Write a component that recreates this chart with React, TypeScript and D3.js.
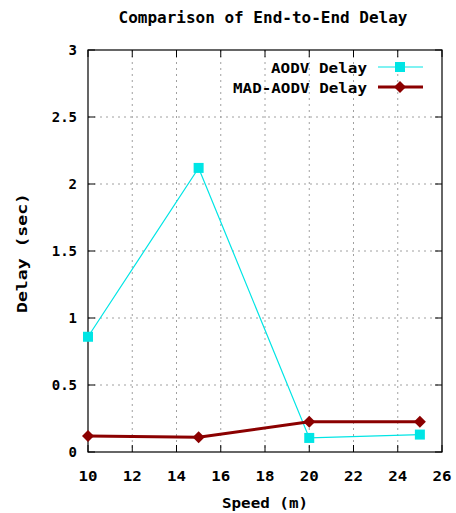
import React from 'react';
import * as d3 from 'd3';

const speeds = [10, 15, 20, 25];
const aodvDelay = [0.86, 2.12, 0.105, 0.13];
const madAodvDelay = [0.12, 0.11, 0.225, 0.225];
const xTicks = [10, 12, 14, 16, 18, 20, 22, 24, 26];
const yTicks = [0, 0.5, 1, 1.5, 2, 2.5, 3];

const W = 456, H = 513;
const left = 88, right = 442, top = 50, bottom = 452;
const FONT = '"DejaVu Sans Mono", monospace';

export default function App() {
  const x = d3.scaleLinear().domain([10, 26]).range([left, right]);
  const y = d3.scaleLinear().domain([0, 3]).range([bottom, top]);

  const line = d3.line<number>()
    .x((d, i) => x(speeds[i]))
    .y(d => y(d));

  const lbl = { fontFamily: FONT, fontWeight: 'bold' as const, fontSize: 14, fill: '#000' };

  return (
    <svg width={W} height={H} style={{ position: 'absolute', left: 0, top: 0, background: '#fff' }}>
      <text x={263} y={23} textAnchor="middle" {...lbl} fontSize={15} textLength={289} lengthAdjust="spacingAndGlyphs">
        Comparison of End-to-End Delay
      </text>

      {/* grid */}
      {xTicks.slice(1, -1).map(t => (
        <line key={'gx' + t} x1={x(t)} x2={x(t)} y1={top} y2={bottom} stroke="#a0a0a0" strokeDasharray="2,4" />
      ))}
      {yTicks.slice(1, -1).map(t => (
        <line key={'gy' + t} x1={left} x2={right} y1={y(t)} y2={y(t)} stroke="#a0a0a0" strokeDasharray="2,4" />
      ))}

      {/* ticks, mirrored on top and right */}
      {xTicks.map(t => (
        <g key={'tx' + t}>
          <line x1={x(t)} x2={x(t)} y1={bottom} y2={bottom - 7} stroke="#000" />
          <line x1={x(t)} x2={x(t)} y1={top} y2={top + 7} stroke="#000" />
          <text x={x(t)} y={481} textAnchor="middle" {...lbl} textLength={19} lengthAdjust="spacingAndGlyphs">{t}</text>
        </g>
      ))}
      {yTicks.map(t => (
        <g key={'ty' + t}>
          <line x1={left} x2={left + 7} y1={y(t)} y2={y(t)} stroke="#000" />
          <line x1={right} x2={right - 7} y1={y(t)} y2={y(t)} stroke="#000" />
          <text x={77} y={y(t) + 5} textAnchor="end" {...lbl}>{String(t)}</text>
        </g>
      ))}

      <rect x={left} y={top} width={right - left} height={bottom - top} fill="none" stroke="#000" strokeWidth={1.2} />

      <text x={265} y={508} textAnchor="middle" {...lbl} textLength={86} lengthAdjust="spacingAndGlyphs">Speed (m)</text>
      <text transform={`translate(27,253) rotate(-90)`} textAnchor="middle" {...lbl} textLength={120} lengthAdjust="spacingAndGlyphs">Delay (sec)</text>

      {/* series */}
      <path d={line(aodvDelay) ?? ''} fill="none" stroke="#00e5e5" strokeWidth={1.2} />
      {aodvDelay.map((v, i) => (
        <rect key={'a' + i} x={x(speeds[i]) - 5} y={y(v) - 5} width={10} height={10} fill="#00e5e5" />
      ))}
      <path d={line(madAodvDelay) ?? ''} fill="none" stroke="#8b0000" strokeWidth={3} />
      {madAodvDelay.map((v, i) => (
        <path key={'m' + i} d={`M${x(speeds[i])},${y(v) - 6}l6,6l-6,6l-6,-6z`} fill="#8b0000" />
      ))}

      {/* legend */}
      <text x={367} y={73} textAnchor="end" {...lbl} textLength={96} lengthAdjust="spacingAndGlyphs">AODV Delay</text>
      <line x1={378} x2={423} y1={67} y2={67} stroke="#00e5e5" strokeWidth={1.2} />
      <rect x={395} y={62} width={10} height={10} fill="#00e5e5" />
      <text x={367} y={93} textAnchor="end" {...lbl} textLength={134} lengthAdjust="spacingAndGlyphs">MAD-AODV Delay</text>
      <line x1={378} x2={423} y1={87} y2={87} stroke="#8b0000" strokeWidth={3} />
      <path d={`M400,81l6,6l-6,6l-6,-6z`} fill="#8b0000" />
    </svg>
  );
}
